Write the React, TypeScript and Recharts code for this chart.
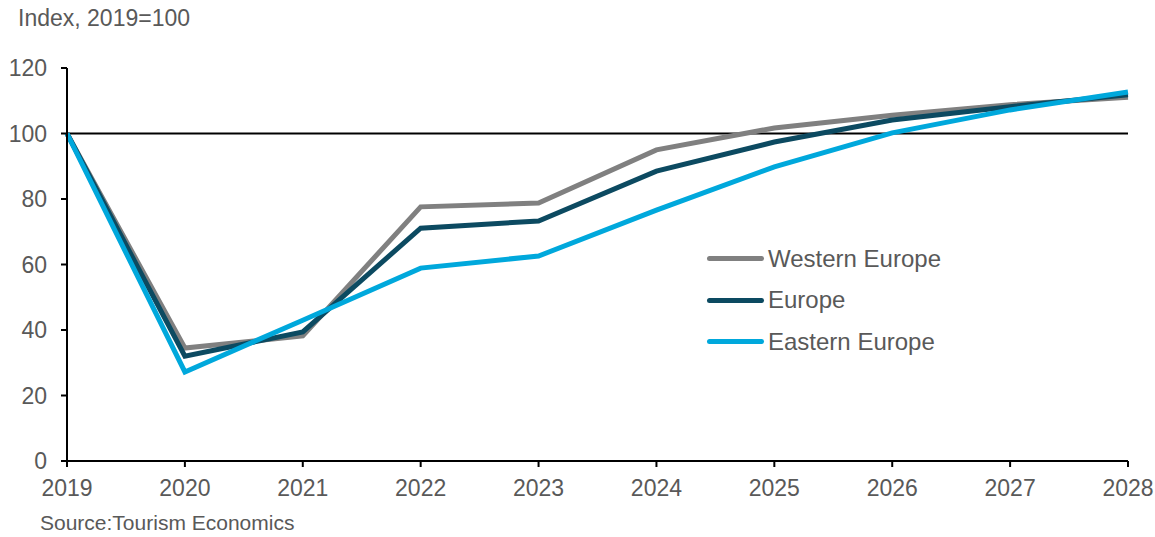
import { LineChart, Line, XAxis, YAxis, ReferenceLine } from 'recharts';

const years = ['2019', '2020', '2021', '2022', '2023', '2024', '2025', '2026', '2027', '2028'];
const western = [100, 34.5, 38.2, 77.6, 78.8, 95, 101.7, 105.6, 108.8, 111.1];
const europe = [100, 32, 39.4, 71.1, 73.3, 88.5, 97.4, 104.1, 108.2, 111.8];
const eastern = [100, 27.2, 43, 58.9, 62.6, 76.6, 89.8, 100.2, 107.2, 112.7];
const yTicks = [0, 20, 40, 60, 80, 100, 120];

const data = years.map((year, i) => ({
    year,
    western: western[i],
    europe: europe[i],
    eastern: eastern[i],
}));

const series = [
    { key: 'western', name: 'Western Europe', color: '#808080' },
    { key: 'europe', name: 'Europe', color: '#0c4a61' },
    { key: 'eastern', name: 'Eastern Europe', color: '#00a8dc' },
];

const font = '"Liberation Sans", Arial, sans-serif';
const textColor = '#595959';

function LegendBox() {
    return (
        <div style={{ position: 'absolute', left: 707, top: 238, fontFamily: font, fontSize: 24, color: textColor }}>
            {series.map((s) => (
                <div key={s.key} style={{ display: 'flex', alignItems: 'center', height: 41.5 }}>
                    <div style={{ width: 57, height: 5, borderRadius: 3, background: s.color, marginRight: 4 }} />
                    <span>{s.name}</span>
                </div>
            ))}
        </div>
    );
}

export default function App() {
    return (
        <div style={{ position: 'absolute', left: 0, top: 0, width: 1155, height: 537, background: '#fff' }}>
            <div style={{ position: 'absolute', left: 18, top: 5, fontFamily: font, fontSize: 23, color: textColor }}>
                Index, 2019=100
            </div>
            <LineChart width={1155} height={537} data={data} margin={{ top: 68, right: 27, bottom: 46, left: 0 }}>
                <XAxis
                    dataKey="year"
                    height={30}
                    stroke="#000"
                    strokeWidth={2}
                    tickSize={6}
                    tickMargin={13}
                    interval={0}
                    tick={{ fill: textColor, fontSize: 23, fontFamily: font }}
                />
                <YAxis
                    domain={[0, 120]}
                    ticks={yTicks}
                    width={67}
                    stroke="#000"
                    strokeWidth={2}
                    tickSize={6}
                    tickMargin={14}
                    tick={{ fill: textColor, fontSize: 23, fontFamily: font }}
                />
                <ReferenceLine y={100} stroke="#000" strokeWidth={2} />
                {series.map((s) => (
                    <Line
                        key={s.key}
                        type="linear"
                        dataKey={s.key}
                        name={s.name}
                        stroke={s.color}
                        strokeWidth={5}
                        dot={false}
                        isAnimationActive={false}
                    />
                ))}
            </LineChart>
            <LegendBox />
            <div style={{ position: 'absolute', left: 40, top: 511, fontFamily: font, fontSize: 21, color: textColor }}>
                Source:Tourism Economics
            </div>
        </div>
    );
}
